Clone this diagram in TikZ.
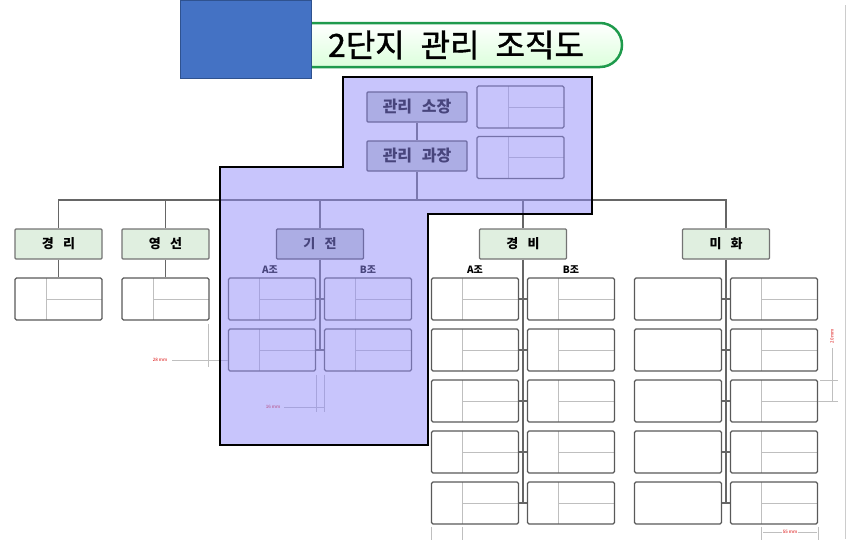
\documentclass[tikz,border=0pt]{standalone}
\usepackage{fontspec}
\setmainfont{Noto Sans CJK KR}
\newfontfamily\ttlfam{Noto Sans CJK KR}[FakeBold=1.3]
\usetikzlibrary{positioning, calc}
\definecolor{blockblue}{HTML}{4472C4}
\definecolor{blockedge}{HTML}{2F528F}
\definecolor{deptgreen}{HTML}{E0EFE0}
\definecolor{bossgray}{HTML}{C8D0D0}
\definecolor{zonepurple}{HTML}{918BF9}
\definecolor{bannergreen}{HTML}{1E9A4C}
\newcommand{\deptfont}{\fontsize{13}{15}\selectfont\bfseries\spaceskip=0.7em\relax}
\newcommand{\bossfont}{\fontsize{16}{18}\selectfont\bfseries\spaceskip=0.6em\relax}
\newcommand{\titlefont}{\ttlfam\fontsize{32}{34}\selectfont\spaceskip=0.5em\relax}
\tikzset{
  dept/.style={
    rectangle, draw=black!55, fill=deptgreen, line width=1.2pt,
    rounded corners=1pt, minimum width=87pt, minimum height=30pt,
    inner sep=0pt, font=\deptfont,
  },
  boss/.style={dept, fill=bossgray, draw=black!70, minimum width=100pt, font=\bossfont},
  card/.style={
    rectangle, draw=black!65, fill=white, line width=1.2pt,
    rounded corners=1.5pt, minimum width=87pt, minimum height=42pt, inner sep=0pt,
    path picture={
      \draw[black!25, line width=0.8pt]
        ([xshift=31pt]path picture bounding box.north west) --
        ([xshift=31pt]path picture bounding box.south west)
        ([xshift=31pt]path picture bounding box.west) --
        (path picture bounding box.east);
    },
  },
  plaincard/.style={
    rectangle, draw=black!65, fill=white, line width=1.2pt,
    rounded corners=1.5pt, minimum width=87pt, minimum height=42pt, inner sep=0pt,
  },
  link/.style={draw=black!60, line width=1.2pt},
  guide/.style={draw=black!25, line width=0.6pt},
  team/.style={font=\fontsize{10}{11}\selectfont\bfseries, inner sep=0pt},
  dimtext/.style={font=\fontsize{4.5}{5}\selectfont, text=red!85!black, inner sep=1pt},
}

\begin{document}
\begin{tikzpicture}[x=1pt, y=-1pt]
  \useasboundingbox (0,0) rectangle (848,539);

  % title banner and block
  \node[draw=bannergreen, line width=2.5pt, top color=white, bottom color=green!14!white,
        rounded corners=22pt, minimum width=332pt, minimum height=44pt, inner sep=0pt,
        font=\titlefont] (ttl) at (456,45) {2단지 관리 조직도};
  \node[draw=blockedge, fill=blockblue, line width=0.8pt, minimum width=131pt,
        minimum height=78pt, inner sep=0pt] (blk) at (245.5,39) {};

  \draw[black!20, line width=0.8pt] (845,5) -- (845,539);

  % management
  \node[boss] (so)  at (417,107) {관리 소장};
  \node[boss] (gwa) at (417,156) {관리 과장};
  \node[card] (soC)  at (520.5,107) {};
  \node[card] (gwaC) at (520.5,157.5) {};

  % departments
  \node[dept] (gl) at (58.5,244)  {경 리};
  \node[dept] (ys) at (165.5,244) {영 선};
  \node[dept, fill=bossgray, draw=black!70] (gj) at (320,244) {기 전};
  \node[dept] (gb) at (523,244)   {경 비};
  \node[dept] (mh) at (726,244)   {미 화};
  \coordinate (bar) at (417,200);

  \draw[link] (so) -- (gwa);
  \draw[link] (gwa) -- (bar);
  \draw[link] (gl.north) -- (gl.north |- bar) -- (mh.north |- bar) -- (mh.north);
  \draw[link] (ys.north) -- (ys.north |- bar);
  \draw[link] (gj.north) -- (gj.north |- bar);
  \draw[link] (gb.north) -- (gb.north |- bar);

  % cards
  \node[card] (glC) at (58.5,299)  {};
  \node[card] (ysC) at (165.5,299) {};
  \draw[link] (gl) -- (glC);
  \draw[link] (ys) -- (ysC);

  \node[team] at (270,270) {A조};
  \node[team] at (368,270) {B조};
  \node[card] (gjA1) at (272,299) {};
  \node[card] (gjB1) at (368,299) {};
  \node[card] (gjA2) at (272,350) {};
  \node[card] (gjB2) at (368,350) {};
  \draw[link] (gj.south) -- (gj.south |- gjA2.east);
  \draw[link] (gjA1.east) -- (gjB1.west);
  \draw[link] (gjA2.east) -- (gjB2.west);

  \node[team] at (475,270) {A조};
  \node[team] at (571,270) {B조};
  \foreach \i/\y in {1/299, 2/350, 3/401, 4/452, 5/503} {
    \node[card]      (gbA\i) at (475,\y) {};
    \node[card]      (gbB\i) at (571,\y) {};
    \node[plaincard] (mhL\i) at (678,\y) {};
    \node[card]      (mhR\i) at (774,\y) {};
    \draw[link] (gbA\i.east) -- (gbB\i.west);
    \draw[link] (mhL\i.east) -- (mhR\i.west);
  }
  \draw[link] (gb.south) -- (gb.south |- gbA5.east);
  \draw[link] (mh.south) -- (mh.south |- mhL5.east);

  % dimension notes
  \node[dimtext] (d28) at (160,360) {28 mm};
  \draw[guide] (ysC.south east) ++(-1,3) -- ++(0,43);
  \draw[guide] (d28.east) ++(4,0) -- (gjA2.west |- d28.east);
  \node[dimtext] (d16) at (273,407) {16 mm};
  \draw[guide] (gjA2.south east) ++(0,3) -- ++(0,37);
  \draw[guide] (gjB2.south west) ++(0,3) -- ++(0,37);
  \draw[guide] (d16.east) ++(3,0) -- (325,407);
  \node[dimtext, rotate=90] (d20) at (832,336) {20 mm};
  \draw[guide] (d20.west) ++(0,4) -- (832,401);
  \draw[guide] (820,380) -- (838,380);
  \draw[guide] (mhR3.east) -- (838,401);
  \node[dimtext] (d55) at (790,532) {55 mm};
  \draw[guide] (mhR5.south west) ++(31,2) -- ++(0,13);
  \draw[guide] (mhR5.south east) ++(0,2) -- ++(0,13);
  \draw[guide] (763,532) -- (d55.west);
  \draw[guide] (d55.east) -- (817,532);
  \draw[guide] (gbA5.south west) ++(0,2) -- ++(0,13);
  \draw[guide] (gbA5.south west) ++(31,2) -- ++(0,13);

  % highlighted zone
  \fill[zonepurple, fill opacity=0.5]
    (343,77) -- (592,77) -- (592,214) -- (428,214) -- (428,445)
    -- (220,445) -- (220,167) -- (343,167) -- cycle;
  \draw[black, line width=2.6pt]
    (343,77) -- (592,77) -- (592,214) -- (428,214) -- (428,445)
    -- (220,445) -- (220,167) -- (343,167) -- cycle;
\end{tikzpicture}
\end{document}
